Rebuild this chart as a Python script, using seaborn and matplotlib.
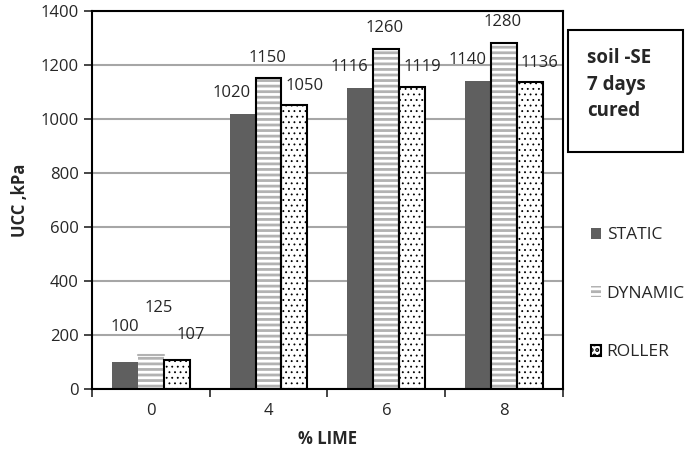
import pandas as pd
import seaborn as sns
import matplotlib.pyplot as plt
from matplotlib.patches import Rectangle, Patch

lime = ['0', '4', '6', '8']
methods = ['STATIC', 'DYNAMIC', 'ROLLER']
static = [100, 1020, 1116, 1140]
dynamic = [125, 1150, 1260, 1280]
roller = [107, 1050, 1119, 1136]

df = pd.DataFrame({
    'lime': lime * 3,
    'ucc': static + dynamic + roller,
    'method': [m for m in methods for _ in lime],
})

sns.set_style('white')
plt.rcParams['font.family'] = ['Open Sans', 'DejaVu Sans']
plt.rcParams['hatch.linewidth'] = 2.0

fig = plt.figure(figsize=(6.85, 4.55), dpi=100)
ax = fig.add_axes([0.134, 0.145, 0.688, 0.831])

ax.yaxis.grid(True, color='#a6a6a6', linewidth=1.5)
ax.set_axisbelow(True)

sns.barplot(data=df, x='lime', y='ucc', hue='method', hue_order=methods,
            palette=['#5f5f5f', 'white', 'white'], saturation=1,
            width=0.66, legend=False, ax=ax)

stripe = '#b2b2b2'


def thin_hatch(p, lw):
    if hasattr(p, 'set_hatch_linewidth'):
        p.set_hatch_linewidth(lw)


# style the three bar groups
for bar in ax.containers[0]:
    bar.set_edgecolor('none')
for i, bar in enumerate(ax.containers[1]):
    bar.set_hatch('---')
    bar.set_edgecolor(stripe)
    bar.set_linewidth(0)
    if i > 0:
        ax.add_patch(Rectangle(bar.get_xy(), bar.get_width(), bar.get_height(),
                               fill=False, edgecolor='black', linewidth=1.5))
    else:
        ax.plot([bar.get_x(), bar.get_x() + bar.get_width()],
                [bar.get_height()] * 2, color=stripe, linewidth=1.5)
for bar in ax.containers[2]:
    bar.set_hatch('...')
    bar.set_edgecolor('black')
    bar.set_linewidth(0)
    thin_hatch(bar, 0.6)
    ax.add_patch(Rectangle(bar.get_xy(), bar.get_width(), bar.get_height(),
                           fill=False, edgecolor='black', linewidth=1.5))

# value labels (offsets in points)
offsets = [
    [(0, 25), (-8, 15), (-8, 15)],
    [(6, 34), (-1, 15), (-1, 15)],
    [(10, 18), (7, 14), (7, 14)],
]
for h, cont in enumerate(ax.containers):
    for g, bar in enumerate(cont):
        dx, dy = offsets[h][0] if g == 0 else offsets[h][1]
        ax.annotate(str(int(bar.get_height())),
                    (bar.get_x() + bar.get_width() / 2, bar.get_height()),
                    xytext=(dx, dy), textcoords='offset points',
                    ha='center', va='center', fontsize=12)

ax.set_ylim(0, 1400)
ax.set_xlim(-0.5, 3.5)
ax.set_yticks(range(0, 1401, 200))
ax.set_xticks([-0.5, 0.5, 1.5, 2.5, 3.5], minor=True)
ax.tick_params(axis='x', which='major', length=0, labelsize=12, pad=10)
ax.tick_params(axis='x', which='minor', length=6, width=1.2, direction='out', bottom=True)
ax.tick_params(axis='y', length=6, width=1.2, direction='out', left=True, labelsize=12)

for s in ax.spines.values():
    s.set_visible(True)
    s.set_color('black')
    s.set_linewidth(1.5)

ax.set_xlabel('% LIME', fontsize=12, fontweight='bold', labelpad=8)
ax.set_ylabel('UCC ,kPa', fontsize=12, fontweight='bold', labelpad=8)

handles = [
    Patch(facecolor='#5f5f5f', edgecolor='none'),
    Patch(facecolor='white', edgecolor=stripe, hatch='---', linewidth=0),
    Patch(facecolor='white', edgecolor='black', hatch='...', linewidth=1.5),
]
thin_hatch(handles[2], 0.6)
fig.legend(handles, methods, loc='upper left', bbox_to_anchor=(0.84, 0.535),
           frameon=False, fontsize=12.5, labelspacing=2.45,
           handlelength=0.6, handleheight=0.6, handletextpad=0.3)

fig.add_artist(Rectangle((0.829, 0.666), 0.168, 0.268, transform=fig.transFigure,
                         facecolor='white', edgecolor='black', linewidth=1.5))
fig.text(0.857, 0.895, 'soil -SE\n7 days\ncured', fontsize=13.5, fontweight='bold',
         va='top', ha='left', linespacing=1.45)

fig.savefig('out.png', dpi=100)
